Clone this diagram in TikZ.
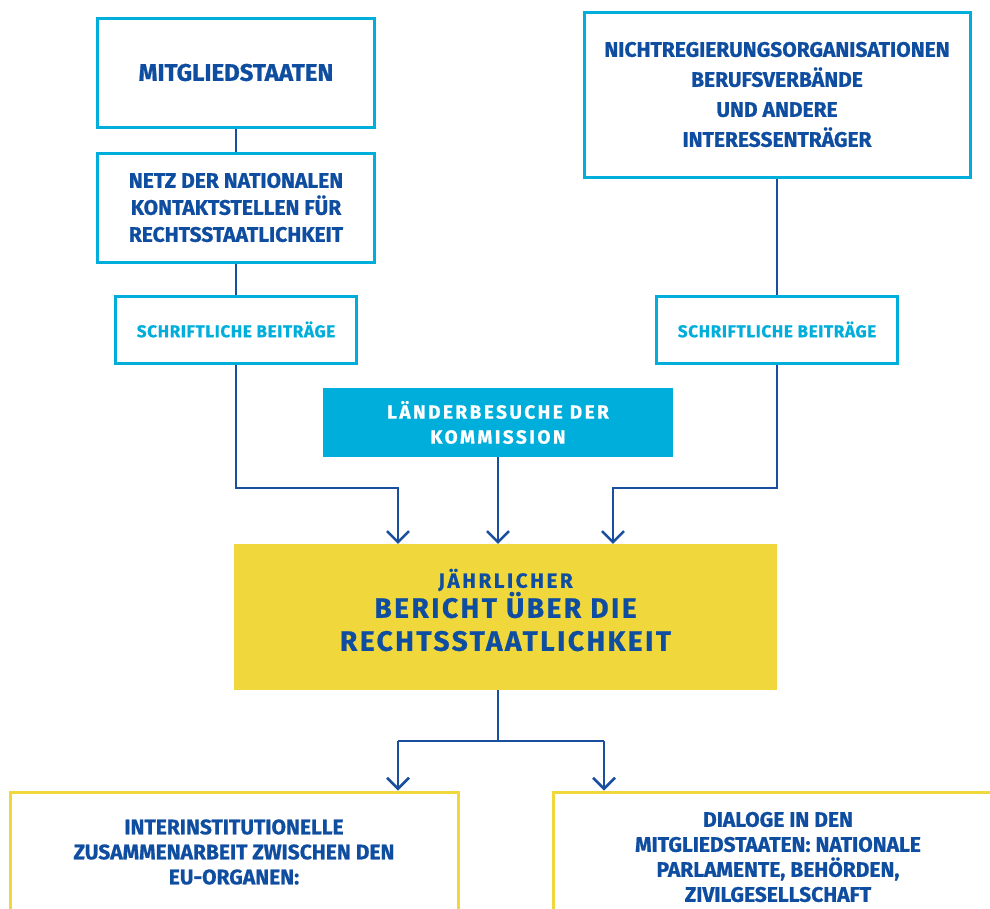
\documentclass[tikz,border=0pt]{standalone}
\usepackage{fontspec}
\setmainfont{Fira Sans}[BoldFeatures={FakeBold=0.8}]
\usetikzlibrary{arrows.meta, positioning}
\definecolor{eucyan}{HTML}{00AEDB}
\definecolor{eublue}{HTML}{0F4DA0}
\definecolor{linkblue}{HTML}{1A4E9E}
\definecolor{euyellow}{HTML}{F0D83C}
\tikzset{
    block/.style={rectangle, draw=eucyan, line width=3pt, fill=white, align=center, text=eublue, font=\bfseries\fontsize{21}{27}\selectfont},
    input/.style={block, text=eucyan, font=\bfseries\fontsize{17}{20}\selectfont\addfontfeatures{LetterSpace=4}},
    visit/.style={rectangle, fill=eucyan, align=center, text=white, font=\bfseries\fontsize{19}{25}\selectfont\addfontfeatures{LetterSpace=13}},
    report/.style={rectangle, fill=euyellow},
    title/.style={align=center, text=eublue, font=\bfseries\fontsize{28}{33}\selectfont\addfontfeatures{LetterSpace=9}},
    outcome/.style={block, draw=euyellow, font=\bfseries\fontsize{21}{25}\selectfont},
    link/.style={draw=linkblue, line width=2.5pt},
    arrow/.style={link, -{Straight Barb[length=11pt, width=22pt]}}
}
\begin{document}
\begin{tikzpicture}[x=1pt, y=-1pt]
    \useasboundingbox (0,0) rectangle (990,908);

    \node[block, minimum width=277, minimum height=109, font=\bfseries\fontsize{24}{27}\selectfont] (member) at (236,72.5) {MITGLIEDSTAATEN};
    \node[block, minimum width=277, minimum height=109] (netz) at (236,207.5) {NETZ DER NATIONALEN\\KONTAKTSTELLEN FÜR\\RECHTSSTAATLICHKEIT};
    \node[input, minimum width=241, minimum height=67] (inputL) at (236,329.5) {SCHRIFTLICHE BEITRÄGE};
    \node[block, minimum width=386, minimum height=165, font=\bfseries\fontsize{21}{30}\selectfont] (ngo) at (777,94.5) {NICHTREGIERUNGSORGANISATIONEN\\BERUFSVERBÄNDE\\UND ANDERE\\INTERESSENTRÄGER};
    \node[input, minimum width=241, minimum height=67] (inputR) at (777,329.5) {SCHRIFTLICHE BEITRÄGE};
    \node[visit, minimum width=350, minimum height=69] (visit) at (498,422.5) {LÄNDERBESUCHE DER\\KOMMISSION};
    \node[report, minimum width=543, minimum height=146] (report) at (505.5,617) {};
    \node[title] (reporttitle) at ([yshift=7pt]report.center) {{\fontsize{20.5}{24}\selectfont\addfontfeatures{LetterSpace=13}JÄHRLICHER}\\[-3pt]BERICHT ÜBER DIE\\RECHTSSTAATLICHKEIT};
    \node[outcome, minimum width=448, minimum height=120] (euorg) at (234,852) {INTERINSTITUTIONELLE\\ZUSAMMENARBEIT ZWISCHEN DEN\\EU-ORGANEN:};
    \node[outcome, minimum width=450, minimum height=130] (dialog) at (778,857) {DIALOGE IN DEN\\MITGLIEDSTAATEN: NATIONALE\\PARLAMENTE, BEHÖRDEN,\\ZIVILGESELLSCHAFT};

    \coordinate (joinL) at (398,488);
    \coordinate (joinR) at (613,488);
    \coordinate (split) at (498,741);
    \coordinate (splitL) at (398,741);
    \coordinate (splitR) at (604,741);

    \path[link] (member) -- (netz);
    \path[link] (netz) -- (inputL);
    \path[link] (ngo) -- (inputR);
    \path[arrow] (inputL.south) |- (joinL) -- (joinL |- report.north);
    \path[arrow] (visit) -- (visit |- report.north);
    \path[arrow] (inputR.south) |- (joinR) -- (joinR |- report.north);
    \path[link] (report.south -| split) -- (split);
    \path[link] (splitL) -- (splitR);
    \path[arrow] (splitL) -- (splitL |- euorg.north);
    \path[arrow] (splitR) -- (splitR |- dialog.north);
\end{tikzpicture}
\end{document}
